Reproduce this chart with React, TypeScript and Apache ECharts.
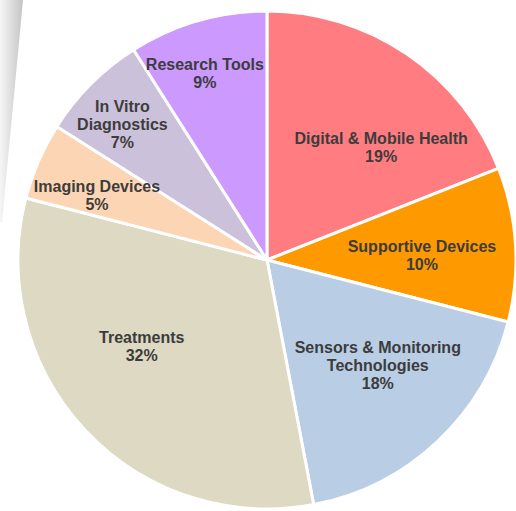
import React, { useEffect, useRef } from "react";
import * as echarts from "echarts";

const categories = [
  "Digital & Mobile Health",
  "Supportive Devices",
  "Sensors & Monitoring\nTechnologies",
  "Treatments",
  "Imaging Devices",
  "In Vitro\nDiagnostics",
  "Research Tools",
];
const shares = [19, 10, 18, 32, 5, 7, 9];
const sliceColors = ["#FF7C80", "#FF9900", "#B9CDE5", "#DDD9C3", "#FCD5B5", "#CCC1DA", "#CC99FF"];
// label placement: [distance from centre in px, angular shift in degrees]
const labelPlacement: [number, number][] = [
  [160, 11.3],
  [155, 1.8],
  [153, -3.2],
  [152, 8.7],
  [182, -2.5],
  [198, -1.9],
  [197, -2.2],
];

const CX = 267;
const CY = 260;
const R = 249;

export default function App() {
  const ref = useRef<HTMLDivElement>(null);
  useEffect(() => {
    document.body.style.margin = "0";
    if (!ref.current) return;
    const chart = echarts.init(ref.current, null, { renderer: "svg" });
    const total = shares.reduce((a, b) => a + b, 0);
    const midAngles: number[] = [];
    let acc = 0;
    shares.forEach((v) => {
      midAngles.push(((acc + v / 2) / total) * 360);
      acc += v;
    });
    chart.setOption({
      animation: false,
      backgroundColor: "#ffffff",
      graphic: [
        {
          type: "polygon",
          z: -1,
          shape: { points: [[0, 0], [23, 0], [2, 222], [0, 222]] },
          style: {
            fill: new echarts.graphic.LinearGradient(0, 0, 1, 0, [
              { offset: 0, color: "#f6f6f6" },
              { offset: 1, color: "#c4c4c4" },
            ]),
          },
        },
      ],
      series: [
        {
          type: "pie",
          center: [CX, CY],
          radius: [0, R],
          startAngle: 90,
          clockwise: true,
          data: categories.map((name, i) => ({
            name,
            value: shares[i],
            itemStyle: { color: sliceColors[i] },
          })),
          itemStyle: { borderColor: "#ffffff", borderWidth: 3 },
          label: {
            show: true,
            position: "inside",
            formatter: (p: any) => `${p.name}\n${p.value}%`,
            fontFamily: "Liberation Sans, Arial, sans-serif",
            fontWeight: "bold",
            fontSize: 16,
            lineHeight: 18,
            color: "#3c3c3c",
            align: "center",
          },
          labelLine: { show: false },
          labelLayout: (params: any) => {
            const i = params.dataIndex;
            const [d, shift] = labelPlacement[i];
            const a = ((midAngles[i] + shift) * Math.PI) / 180;
            return { x: CX + d * Math.sin(a), y: CY - d * Math.cos(a) };
          },
          emphasis: { disabled: true },
        },
      ],
    });
    return () => chart.dispose();
  }, []);
  return <div ref={ref} style={{ width: 516, height: 511 }} />;
}
